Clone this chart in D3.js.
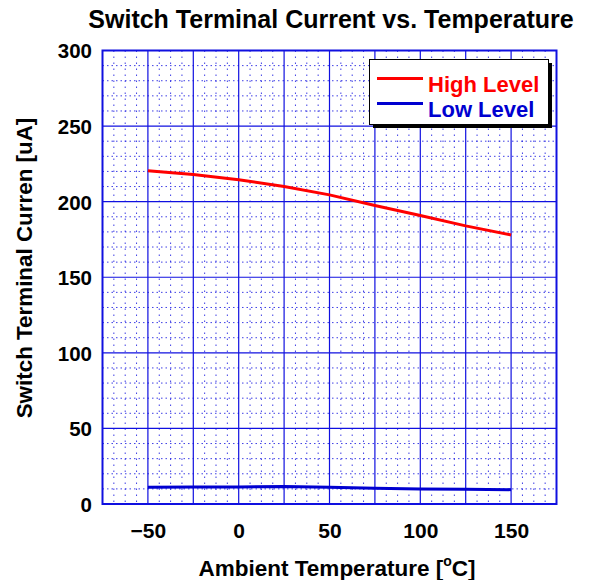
<!DOCTYPE html>
<html>
<head>
<meta charset="utf-8">
<script src="https://cdn.jsdelivr.net/npm/d3@7"></script>
<style>
  body { margin: 0; background: #fff; }
  text { font-family: "Liberation Sans", Arial, sans-serif; font-weight: bold; }
</style>
</head>
<body>
<svg id="chart" width="589" height="580"></svg>
<script>
// readings
var temps = [-50, -25, 0, 25, 50, 75, 100, 125, 150];
var highLevel = [220.5, 218, 214.5, 210, 204.5, 197.5, 190.8, 184, 178];
var lowLevel = [11, 11.2, 11.3, 11.5, 11, 10.5, 10, 9.8, 9.5];
var xTicks = [-50, 0, 50, 100, 150];
var yTicks = [0, 50, 100, 150, 200, 250, 300];
var seriesNames = ['High Level', 'Low Level'];
var seriesColors = ['#ff0000', '#0000d0'];

var plotL = 102.5, plotR = 556.5, plotT = 50.5, plotB = 504;
var svg = d3.select('#chart');

var x = d3.scaleLinear().domain([-75, 175]).range([plotL, plotR]);
var y = d3.scaleLinear().domain([0, 300]).range([plotB, plotT]);

var grid = svg.append('g');
var gridColor = '#1010e0';

// minor grid, dotted
grid.selectAll('.vminor').data(d3.range(-75, 175.01, 6.25).filter(function(d) { return d % 25 != 0; }))
  .enter().append('line')
  .attr('x1', function(d) { return x(d); }).attr('x2', function(d) { return x(d); })
  .attr('y1', plotT).attr('y2', plotB)
  .attr('stroke', gridColor).attr('stroke-width', 1).attr('stroke-dasharray', '1.5,4.5').attr('opacity', 0.8);
grid.selectAll('.hminor').data(d3.range(0, 300.01, 10).filter(function(d) { return d % 50 != 0; }))
  .enter().append('line')
  .attr('y1', function(d) { return y(d); }).attr('y2', function(d) { return y(d); })
  .attr('x1', plotL).attr('x2', plotR)
  .attr('stroke', gridColor).attr('stroke-width', 1).attr('stroke-dasharray', '1.5,3').attr('opacity', 0.8);

// major grid
grid.selectAll('.vmajor').data(d3.range(-50, 175, 25))
  .enter().append('line')
  .attr('x1', function(d) { return x(d); }).attr('x2', function(d) { return x(d); })
  .attr('y1', plotT).attr('y2', plotB)
  .attr('stroke', gridColor).attr('stroke-width', 1.2);
grid.selectAll('.hmajor').data(d3.range(50, 300, 50))
  .enter().append('line')
  .attr('y1', function(d) { return y(d); }).attr('y2', function(d) { return y(d); })
  .attr('x1', plotL).attr('x2', plotR)
  .attr('stroke', gridColor).attr('stroke-width', 1.2);

svg.append('rect').attr('x', plotL).attr('y', plotT)
  .attr('width', plotR - plotL).attr('height', plotB - plotT)
  .attr('fill', 'none').attr('stroke', gridColor).attr('stroke-width', 2);

// axes (labels only)
var xAxis = d3.axisBottom(x).tickValues(xTicks).tickSize(0).tickPadding(0);
var gx = svg.append('g').attr('transform', 'translate(0,538)').call(xAxis);
gx.select('.domain').remove();
gx.selectAll('text').attr('font-size', 21).attr('fill', '#000').attr('dy', 0)
  .style('font-family', '"Liberation Sans", Arial, sans-serif').style('font-weight', 'bold');

var yAxis = d3.axisLeft(y).tickValues(yTicks).tickSize(0).tickPadding(0);
var gy = svg.append('g').attr('transform', 'translate(92,0)').call(yAxis);
gy.select('.domain').remove();
gy.selectAll('text').attr('font-size', 20.5).attr('fill', '#000').attr('dy', '0.36em')
  .style('font-family', '"Liberation Sans", Arial, sans-serif').style('font-weight', 'bold');

// series
var line = d3.line().x(function(d) { return x(d[0]); }).y(function(d) { return y(d[1]); });
[highLevel, lowLevel].forEach(function(vals, i) {
  svg.append('path').datum(d3.zip(temps, vals))
    .attr('d', line).attr('fill', 'none')
    .attr('stroke', seriesColors[i]).attr('stroke-width', 3);
});

// legend
var lg = svg.append('g');
lg.append('rect').attr('x', 373).attr('y', 63).attr('width', 179).attr('height', 65).attr('fill', '#000');
lg.append('rect').attr('x', 369.5).attr('y', 59.5).attr('width', 179).attr('height', 65)
  .attr('fill', '#fff').attr('stroke', '#000').attr('stroke-width', 1);
seriesNames.forEach(function(name, i) {
  var ly = 78.5 + i * 25;
  lg.append('line').attr('x1', 377).attr('x2', 423).attr('y1', ly).attr('y2', ly)
    .attr('stroke', seriesColors[i]).attr('stroke-width', 3);
  lg.append('text').attr('x', 428).attr('y', ly + 13.5).attr('font-size', 22)
    .attr('fill', seriesColors[i]).text(name);
});

// titles
svg.append('text').attr('x', 331).attr('y', 28).attr('text-anchor', 'middle')
  .attr('font-size', 25).text('Switch Terminal Current vs. Temperature');

var xl = svg.append('text').attr('x', 337).attr('y', 576).attr('text-anchor', 'middle').attr('font-size', 22.5);
xl.append('tspan').text('Ambient Temperature [');
xl.append('tspan').attr('font-size', 14).attr('dy', -10).text('o');
xl.append('tspan').attr('dy', 10).text('C]');

svg.append('text').attr('transform', 'translate(32,268) rotate(-90)')
  .attr('text-anchor', 'middle').attr('font-size', 22.4).text('Switch Terminal Curren [uA]');
</script>
</body>
</html>
